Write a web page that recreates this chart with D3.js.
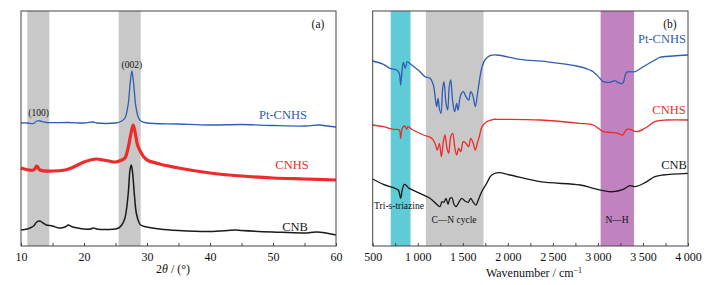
<!DOCTYPE html>
<html><head><meta charset="utf-8">
<script src="https://cdn.jsdelivr.net/npm/d3@7"></script>
<style>body{margin:0;background:#fff}svg{display:block}svg text{font-family:"Liberation Serif","Times New Roman",Times,serif !important}</style>
</head><body><svg id="c" width="717" height="285"></svg>
<script>
// ---------- XRD data (2θ, offset intensity a.u., larger = lower on page) ----------
const xrdPt = [[10,123],[11,123],[12,123.5],[12.5,121],[13,121],[14,122.5],[17.5,122.5],[20,123],[21.5,122],[22,123],[25,123],[26,121],[26.5,118],[27,105],[27.3,85],[27.6,71],[27.9,85],[28.2,105],[28.6,117],[29,121],[30,123],[35,124],[40,125],[45,124.5],[50,125.5],[55,126],[57.5,125],[58,125.5],[60,127]];
const xrdCNHS = [[10,168],[12,170],[12.5,166],[13,170],[15,171],[17,170],[18,168],[19,165],[20,162],[21,160],[22,159],[23,160],[24,161],[25,162],[26,160],[26.5,158],[27,148],[27.5,132],[27.8,125],[28.1,132],[28.5,145],[29,152],[29.5,157],[30,160],[32,164],[35,168],[40,173],[45,176],[50,178],[55,179],[60,180]];
const xrdCNB = [[10,230],[11,229],[12,226],[12.5,222],[13,221],[13.5,223],[14,225],[15,226],[16,228],[17,227],[17.5,225],[18,226.5],[19,228],[20,229],[21,229],[21.5,228],[22,229],[24,229.5],[25,229],[25.5,228],[26,225],[26.5,218],[27,195],[27.3,170],[27.5,165],[27.7,172],[28,195],[28.3,213],[28.7,222],[29,225],[30,227],[32,229],[35,230.5],[40,231.5],[44,230],[45,230.5],[50,232],[55,233],[57,232],[60,235]];
const xrdBands = [[11,14.5],[25.5,29]];
const xrdTicks = [10,20,30,40,50,60];
const xrdLabels = ["Pt-CNHS","CNHS","CNB"];
const xrdPeaks = [["(100)",12.8,113],["(002)",27.6,65]];

// ---------- FTIR data (wavenumber, offset transmittance a.u., larger = lower) ----------
const irPt = [[500,61],[618,64.3],[692,68.3],[766,70],[795,73.3],[810,85],[825,71.7],[840,62.3],[862,68.3],[884,61.7],[922,64.3],[1025,71.7],[1080,76.7],[1136,78.3],[1173,85],[1195,98.3],[1210,106.7],[1225,98.3],[1240,108.3],[1258,113.3],[1277,88.3],[1291,81.7],[1314,103.3],[1332,110],[1350,86.7],[1366,80],[1388,101.7],[1410,111.7],[1432,103.3],[1447,110],[1477,95],[1506,91.7],[1535,96.7],[1565,100],[1588,91.7],[1610,95],[1639,106.7],[1661,95],[1683,81.7],[1710,68.3],[1746,60],[1802,55.7],[1876,55],[2135,59.3],[2431,61.7],[2764,66],[2912,70],[2948,71.7],[3022,78.3],[3059,81.7],[3134,82.3],[3189,80.7],[3226,82.7],[3275,83.3],[3319,72.3],[3411,71.7],[3503,66.7],[3633,60],[3688,57.3],[3836,56],[4000,55]];
const irCNHS = [[500,125],[618,126.7],[729,129.3],[795,130],[810,138.3],[828,128.3],[855,126],[877,129.3],[892,126.7],[933,129.3],[1062,135],[1155,138.3],[1191,143.3],[1217,150],[1240,143.3],[1262,156.7],[1284,141.7],[1302,135],[1325,148.3],[1343,153.3],[1366,136.7],[1388,133.3],[1410,146.7],[1432,155],[1455,148.3],[1477,151.7],[1506,141.7],[1535,143.3],[1565,146.7],[1588,138.3],[1610,141.7],[1639,150],[1661,143.3],[1683,136.7],[1713,126.7],[1765,121.7],[1846,119.3],[1876,119.3],[2357,120],[2801,123.3],[2948,125],[3004,128.3],[3059,131.7],[3170,132.7],[3226,133.3],[3275,135],[3319,129.3],[3356,129.3],[3430,131.7],[3522,128.3],[3633,121.7],[3763,120],[4000,120]];
const irCNB = [[500,179],[618,184.3],[729,187.7],[784,190],[810,198.3],[828,190],[851,184.3],[877,185.7],[895,187.7],[1025,193.3],[1136,198.3],[1210,204.3],[1247,206.7],[1269,201.7],[1291,202.3],[1314,198.3],[1336,204.3],[1358,198.3],[1380,197.7],[1402,204.3],[1425,206.7],[1450,203.3],[1488,198.3],[1524,201],[1561,202.3],[1588,198.3],[1617,202.3],[1646,205],[1672,200],[1710,191.7],[1765,183.3],[1821,175],[1894,172.7],[2024,175],[2357,181.7],[2801,185],[2948,188.3],[3059,190.7],[3170,191.7],[3281,189.3],[3356,185.7],[3411,186.7],[3522,182.7],[3633,176.7],[3725,175],[4000,173.3]];
const irBands = [[700,920],[1090,1730],[3030,3400]];
const irTicks = [500,1000,1500,2000,2500,3000,3500,4000];
const irLabels = ["Pt-CNHS","CNHS","CNB"];
const irBandLabels = ["Tri-s-triazine","C\u2014N cycle","N\u2014H"];

const COLORS = ["#2f5db5","#ee2a2a","#1a1a1a"];
const BAND_COLORS = ["#5fcbd6","#c8c8c8","#c183bf"];
const FONT = '"Liberation Serif","Times New Roman",Times,serif';
const svg = d3.select("#c");
const pTop = 11, pBot = 246;
const yA = d3.scaleLinear().domain([pTop,pBot]).range([pTop,pBot]);

function axisStyle(g){
  g.attr("font-family",FONT);
  g.select(".domain").remove();
  g.selectAll("text").attr("font-size",12).attr("fill","#111").attr("font-family",FONT);
  g.selectAll("line").attr("stroke","#444");
}
function addText(g,x,y,t,size,fill,anchor){
  return g.append("text").attr("x",x).attr("y",y).attr("dy","0.35em").attr("text-anchor",anchor||"middle")
    .attr("font-family",FONT).attr("font-size",size).attr("fill",fill||"#111").text(t);
}

// ---- panel (a) ----
const xa = d3.scaleLinear().domain([10,60]).range([21,336]);
const ga = svg.append("g");
ga.selectAll("rect.band").data(xrdBands).join("rect").attr("x",d=>xa(d[0])).attr("width",d=>xa(d[1])-xa(d[0]))
  .attr("y",pTop).attr("height",pBot-pTop).attr("fill","#c8c8c8");
const la = d3.line().x(d=>xa(d[0])).y(d=>yA(d[1])).curve(d3.curveCatmullRom);
[[xrdPt,1.3],[xrdCNHS,3.2],[xrdCNB,1.5]].forEach(([d,w],i)=>{
  ga.append("path").attr("d",la(d)).attr("fill","none").attr("stroke",COLORS[i]).attr("stroke-width",w).attr("stroke-linejoin","round");
});
ga.append("g").attr("transform",`translate(0,${pBot})`).call(d3.axisBottom(xa).tickValues(d3.range(10,61,5)).tickSize(-3).tickFormat(d=>xrdTicks.includes(d)?d:"").tickPadding(6)).call(axisStyle);
ga.append("rect").attr("x",xa(10)).attr("y",pTop).attr("width",xa(60)-xa(10)).attr("height",pBot-pTop).attr("fill","none").attr("stroke","#444").attr("stroke-width",1);
xrdLabels.forEach((t,i)=>addText(ga,[283,292,295][i],[115,165,227][i],t,12.5,COLORS[i]));
xrdPeaks.forEach(([t,xv,yy])=>addText(ga,xa(xv),yy,t,9.5));
addText(ga,318,24,"(a)",11.5);
const ta = addText(ga,173,269,"",12);
ta.append("tspan").text("2");ta.append("tspan").attr("font-style","italic").text("θ");ta.append("tspan").text(" / (°)");

// ---- panel (b) ----
const xb = d3.scaleLinear().domain([500,4000]).range([372.7,688]);
const gb = svg.append("g");
gb.selectAll("rect.band").data(irBands).join("rect").attr("x",d=>xb(d[0])).attr("width",d=>xb(d[1])-xb(d[0]))
  .attr("y",pTop).attr("height",pBot-pTop).attr("fill",(d,i)=>BAND_COLORS[i]);
const lb = d3.line().x(d=>xb(d[0])).y(d=>yA(d[1])).curve(d3.curveCatmullRom);
[irPt,irCNHS,irCNB].forEach((d,i)=>{
  gb.append("path").attr("d",lb(d)).attr("fill","none").attr("stroke",COLORS[i]).attr("stroke-width",1.3).attr("stroke-linejoin","round");
});
const fmt = d=> d>=1000 ? Math.floor(d/1000)+"\u2009"+String(d%1000).padStart(3,"0") : String(d);
gb.append("g").attr("transform",`translate(0,${pBot})`).call(d3.axisBottom(xb).tickValues(d3.range(500,4001,250)).tickSize(-3).tickFormat(d=>irTicks.includes(d)?fmt(d):"").tickPadding(6)).call(axisStyle);
gb.append("rect").attr("x",xb(500)).attr("y",pTop).attr("width",xb(4000)-xb(500)).attr("height",pBot-pTop).attr("fill","none").attr("stroke","#444").attr("stroke-width",1);
irLabels.forEach((t,i)=>addText(gb,[662,669,674][i],[39,110,165][i],t,12.5,COLORS[i]));
irBandLabels.forEach((t,i)=>addText(gb,[399,454,617][i],[206,220,220][i],t,9.5));
addText(gb,670,24,"(b)",11.5);
const tb = addText(gb,534,273,"",12);
tb.append("tspan").text("Wavenumber / cm");tb.append("tspan").attr("font-size",8).attr("dy","-0.5em").text("\u22121");
</script></body></html>
